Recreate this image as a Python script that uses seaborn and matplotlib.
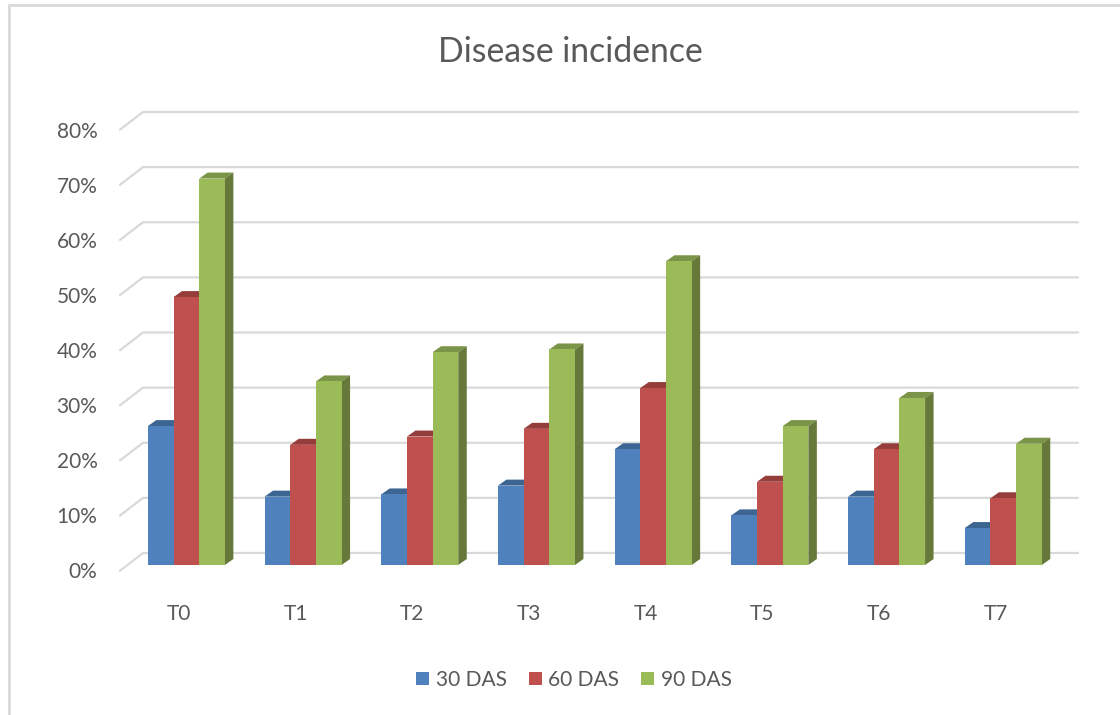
import matplotlib
matplotlib.use("Agg")
import matplotlib.pyplot as plt
from matplotlib.lines import Line2D
from matplotlib.patches import Polygon
from matplotlib.transforms import ScaledTranslation
import pandas as pd
import seaborn as sns

treatments = ["T0", "T1", "T2", "T3", "T4", "T5", "T6", "T7"]
das30 = [25.2, 12.4, 12.8, 14.4, 21.0, 9.0, 12.4, 6.7]
das60 = [48.6, 21.8, 23.3, 24.7, 32.1, 15.1, 21.0, 12.1]
das90 = [70.1, 33.3, 38.6, 39.1, 55.1, 25.2, 30.3, 22.0]
stages = ["30 DAS", "60 DAS", "90 DAS"]
front_colors = ["#4F81BD", "#C0504D", "#9BBB59"]
top_colors = ["#3C6592", "#953D3B", "#7A9448"]
side_colors = ["#2F4F75", "#773130", "#66793A"]
yticks = [0, 10, 20, 30, 40, 50, 60, 70, 80]

TEXT = "#595959"
GRID = "#D9D9D9"
W, H = 1120, 715

sns.set_theme(style="white")
plt.rcParams["font.family"] = ["Lato", "DejaVu Sans"]

df = pd.DataFrame({
    "Treatment": treatments * 3,
    "Incidence": das30 + das60 + das90,
    "Stage": sum([[s] * len(treatments) for s in stages], []),
})

fig = plt.figure(figsize=(W / 100, H / 100), dpi=100, facecolor="white")
ax_left, ax_right, ax_bottom, ax_top = 128, 1061.6, 565, 124
ax = fig.add_axes([ax_left / W, 1 - ax_bottom / H,
                   (ax_right - ax_left) / W, (ax_bottom - ax_top) / H])
ax.patch.set_alpha(0)

sns.barplot(data=df, x="Treatment", y="Incidence", hue="Stage", hue_order=stages,
            palette=front_colors, saturation=1, width=0.66, gap=0, dodge=True,
            linewidth=0, ax=ax, zorder=4)
ax.set_xlim(-0.5, 7.5)
ax.set_ylim(0, 80)
ax.set_xlabel("")
ax.set_ylabel("")
sns.despine(ax=ax, left=True, bottom=True)

# pixel to data conversion
px_x = 8 / (ax_right - ax_left)
px_y = 80 / (ax_bottom - ax_top)

# back wall gridlines and floor/side diagonals
back_dy = 12 * px_y
x_back_l = -0.5 + 15 * px_x
x_back_r = -0.5 + 950 * px_x
x_front_l = -0.5 - 8 * px_x
front_dy = -5.7 * px_y
for v in yticks:
    ax.plot([x_front_l, x_back_l, x_back_r],
            [v + front_dy, v + back_dy, v + back_dy],
            color=GRID, lw=1.6, clip_on=False, zorder=1, solid_joinstyle="miter")

# depth faces derived from the bars
dx = 8.5 * px_x
dy = 6 * px_y
n = len(treatments)
for k, container in enumerate(ax.containers):
    for bar in container:
        h = bar.get_height()
        x0, w = bar.get_x(), bar.get_width()
        top = Polygon([(x0, h), (x0 + dx, h + dy), (x0 + w + dx, h + dy), (x0 + w, h)],
                      closed=True, fc=top_colors[k], ec="none", clip_on=False, zorder=2 + k * 0.1)
        side = Polygon([(x0 + w, 0), (x0 + w + dx, dy), (x0 + w + dx, h + dy), (x0 + w, h)],
                       closed=True, fc=side_colors[k], ec="none", clip_on=False, zorder=2 + k * 0.1)
        ax.add_patch(top)
        ax.add_patch(side)

# ticks
ax.set_yticks(yticks)
ax.set_yticklabels([f"{v}%" for v in yticks])
ax.set_xticks(range(n))
ax.set_xticklabels(treatments)
ax.tick_params(axis="both", length=0, labelsize=15, labelcolor=TEXT)
ax.tick_params(axis="y", pad=22)
ax.tick_params(axis="x", pad=28)
xshift = ScaledTranslation(-7.5 / 100, 0, fig.dpi_scale_trans)
yshift = ScaledTranslation(0, -5.5 / 100, fig.dpi_scale_trans)
for lab in ax.get_xticklabels():
    lab.set_transform(lab.get_transform() + xshift)
for lab in ax.get_yticklabels():
    lab.set_transform(lab.get_transform() + yshift)

ax.set_title("Disease incidence", fontsize=24.3, color=TEXT, pad=0,
             x=(570 - ax_left) / (ax_right - ax_left),
             y=1 + (ax_top - 62) / (ax_bottom - ax_top), loc="center")

sns.move_legend(ax, "center", bbox_to_anchor=(574 / W, 1 - 680 / H),
                bbox_transform=fig.transFigure, ncol=3, frameon=False, title=None,
                fontsize=15, labelcolor=TEXT, handlelength=0.62, handleheight=0.62,
                handletextpad=0.32, columnspacing=1.05)

# outer frame remnants
fig.add_artist(Line2D([8.5 / W, 8.5 / W, 1], [0, 1 - 5 / H, 1 - 5 / H],
                      color=GRID, lw=2, solid_joinstyle="miter"))

fig.savefig("out.png", dpi=100)
